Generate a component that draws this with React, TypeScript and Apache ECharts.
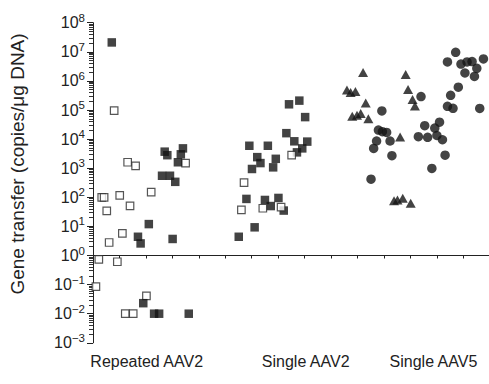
import React, { useEffect, useRef } from "react";
import * as echarts from "echarts";

// x positions are in axis units (one unit per x tick), values are copies/μg DNA
const categories = ["Repeated AAV2", "Single AAV2", "Single AAV5"];
const categoryCenters = [2.03, 8.04, 12.87];

const yTickExponents = [-3, -2, -1, 0, 1, 2, 3, 4, 5, 6, 7, 8];

const repeatedOpen: [number, number][] = [
  [0.8, 9.5e4], [1.31, 1.6e3], [1.61, 1.2e3], [3.5, 1.5e3], [0.33, 100], [0.42, 100],
  [1.01, 117], [2.2, 150], [1.4, 51], [0.52, 34], [1.11, 5.8], [0.61, 2.8],
  [0.22, 0.74], [0.92, 0.61], [0.11, 0.085], [2.02, 0.041], [1.22, 0.01], [1.52, 0.01],
];

const repeatedFilled: [number, number][] = [
  [0.71, 2.1e7], [2.71, 3.7e3], [2.81, 2.8e3], [3.4, 4.8e3], [3.32, 3.0e3], [3.21, 1.6e3],
  [2.61, 550], [2.91, 550], [3.11, 340], [2.11, 12], [1.7, 4.4], [1.8, 2.6], [3.01, 3.7],
  [1.9, 0.023], [2.31, 0.01], [2.5, 0.01], [3.62, 0.01],
];

const singleAav2Filled: [number, number][] = [
  [7.41, 1.57e5], [7.8, 2.1e5], [8.02, 5.7e4], [7.31, 1.6e4], [7.61, 8.4e3], [8.1, 8.2e3],
  [7.91, 4.8e3], [7.71, 3.5e3], [5.91, 5.9e3], [6.61, 5.9e3], [6.21, 2.4e3], [6.33, 1.5e3],
  [6.91, 2.1e3], [6.01, 940], [6.81, 1.07e3], [5.8, 88], [6.5, 81], [7.01, 95], [6.72, 50],
  [7.21, 35], [6.11, 9.3], [5.51, 4.4],
];

const singleAav2Open: [number, number][] = [
  [7.51, 2.8e3], [5.71, 320], [5.61, 37], [6.42, 42], [7.11, 46],
];

const singleAav5Triangles: [number, number][] = [
  [10.21, 1.95e6], [11.82, 1.66e6], [9.6, 4.9e5], [9.74, 4.0e5], [9.92, 4.3e5], [11.91, 5.1e5],
  [10.31, 1.74e5], [12.08, 2.3e5], [9.8, 6.1e4], [9.98, 6.6e4], [10.12, 7.6e4], [10.41, 5.0e4],
  [12.17, 1.37e5], [11.61, 1.18e4], [11.38, 76], [11.51, 81], [11.71, 92], [12.01, 62],
];

const singleAav5Circles: [number, number][] = [
  [13.71, 9.6e6], [13.4, 4.5e6], [13.91, 3.8e6], [14.14, 4.5e6], [14.33, 4.6e6], [14.76, 5.7e6],
  [14.51, 2.7e6], [14.06, 1.87e6], [14.42, 1.42e6], [13.81, 6.1e5], [13.52, 3.2e5], [12.4, 2.9e5],
  [13.4, 1.34e5], [13.61, 1.14e5], [14.62, 1.13e5], [10.92, 9.3e4], [10.79, 2.05e4], [10.94, 1.8e4],
  [11.1, 1.69e4], [10.72, 8.6e3], [11.23, 8.6e3], [10.61, 4.8e3], [11.3, 2.7e3], [10.51, 420],
  [12.54, 2.9e4], [13.1, 3.8e4], [12.92, 2.4e4], [12.3, 1.21e4], [12.65, 1.15e4], [13.0, 1.33e4],
  [13.21, 9.5e3], [13.31, 2.8e3], [12.81, 980],
];

const FONT = "Liberation Sans, Arial, Helvetica, sans-serif";
const INK = "#141414";

const toLog = (pts: [number, number][]) => pts.map(([x, v]) => [x, Math.log10(v)]);

export default function App() {
  const ref = useRef<HTMLDivElement>(null);

  useEffect(() => {
    if (!ref.current) return;
    const chart = echarts.init(ref.current, null, { renderer: "svg" });

    const yMin = yTickExponents[0];
    const yMax = yTickExponents[yTickExponents.length - 1];
    const minorTicks: number[] = [];
    for (let k = yMin; k < yMax; k++) {
      for (let m = 2; m <= 9; m++) minorTicks.push(k + Math.log10(m));
    }
    const xTicks: number[] = [];
    for (let i = 0; i <= 14; i++) xTicks.push(i);

    const filled = { color: INK };
    const open = { color: "#fff", borderColor: "#2a2a2a", borderWidth: 1.2 };

    chart.setOption({
      animation: false,
      grid: { left: 93, right: 0, top: 22.7, bottom: 41.2, containLabel: false },
      xAxis: {
        type: "value",
        min: 0,
        max: 14.97,
        interval: 1,
        axisLine: { show: true, lineStyle: { color: "#222", width: 1 } },
        axisTick: { show: true, length: 3, customValues: xTicks, lineStyle: { color: "#222" } },
        axisLabel: {
          show: true,
          customValues: categoryCenters,
          margin: 11,
          fontFamily: FONT,
          fontSize: 16,
          color: "#222",
          formatter: (v: number) => {
            let best = 0;
            categoryCenters.forEach((c, i) => {
              if (Math.abs(c - v) < Math.abs(categoryCenters[best] - v)) best = i;
            });
            return categories[best];
          },
        },
        splitLine: { show: false },
      },
      yAxis: [
        {
          type: "value",
          min: yMin,
          max: yMax,
          interval: 1,
          axisLine: { show: true, lineStyle: { color: "#222", width: 1 } },
          axisTick: { show: true, length: 6, lineStyle: { color: "#222" } },
          axisLabel: {
            margin: 8,
            formatter: (v: number) => `{b|10}{s|${v < 0 ? "\u2212" + Math.abs(v) : v}}`,
            rich: {
              b: { fontFamily: FONT, fontSize: 16, color: "#222", lineHeight: 22 },
              s: { fontFamily: FONT, fontSize: 11.5, color: "#222", lineHeight: 12, verticalAlign: "top" },
            },
          },
          splitLine: { show: false },
        },
        {
          type: "value",
          min: yMin,
          max: yMax,
          interval: 1,
          position: "left",
          axisLine: { show: false },
          axisTick: { show: true, length: 4, customValues: minorTicks, lineStyle: { color: "#333" } },
          axisLabel: { show: false },
          splitLine: { show: false },
        },
      ],
      graphic: [
        {
          type: "text",
          x: 17,
          y: 164,
          rotation: Math.PI / 2,
          style: {
            text: "Gene transfer (copies/\u03bcg DNA)",
            fontFamily: FONT,
            fontSize: 19,
            fill: "#222",
            align: "center",
            verticalAlign: "middle",
          },
        },
      ],
      series: [
        { type: "scatter", symbol: "rect", symbolSize: 7.5, itemStyle: open, data: toLog(repeatedOpen) },
        { type: "scatter", symbol: "rect", symbolSize: 8.5, itemStyle: filled, data: toLog(repeatedFilled) },
        { type: "scatter", symbol: "rect", symbolSize: 8.5, itemStyle: filled, data: toLog(singleAav2Filled) },
        { type: "scatter", symbol: "rect", symbolSize: 7.5, itemStyle: open, data: toLog(singleAav2Open) },
        { type: "scatter", symbol: "triangle", symbolSize: [10, 9], itemStyle: filled, data: toLog(singleAav5Triangles) },
        { type: "scatter", symbol: "circle", symbolSize: 9.5, itemStyle: filled, data: toLog(singleAav5Circles) },
      ],
    });

    return () => chart.dispose();
  }, []);

  return (
    <div
      ref={ref}
      style={{ position: "absolute", left: 0, top: 0, width: 489, height: 384, background: "#fff" }}
    />
  );
}
